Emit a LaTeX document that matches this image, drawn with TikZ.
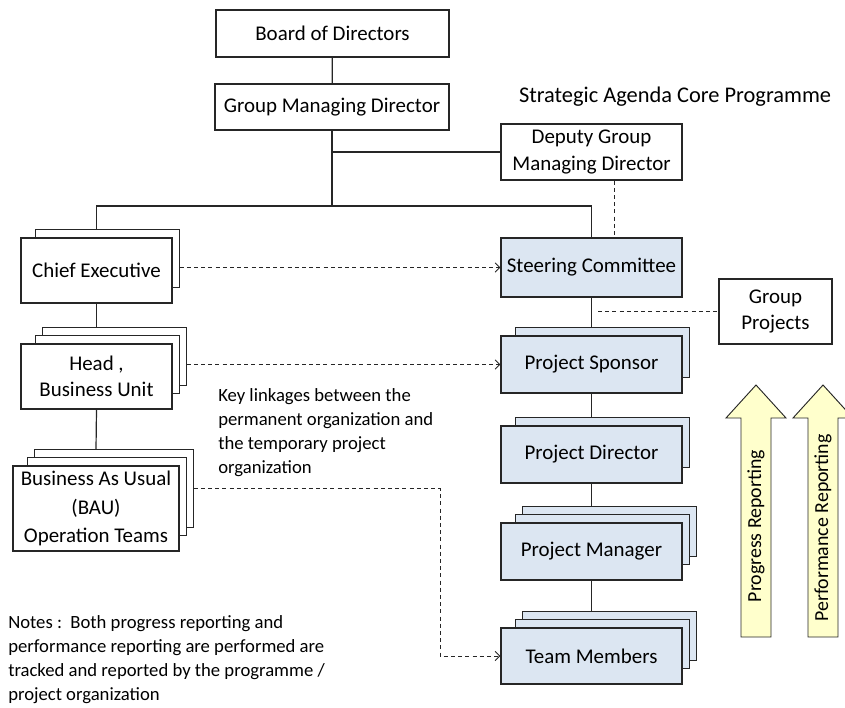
\documentclass[tikz,border=0pt]{standalone}
\usepackage{fontspec}
\setmainfont{Carlito}
\usetikzlibrary{calc,backgrounds,arrows.meta,positioning}
\definecolor{boxblue}{HTML}{DCE6F2}
\definecolor{reportyellow}{HTML}{FFFFCC}
\definecolor{edgegray}{HTML}{262626}

\tikzset{
  orgbox/.style={rectangle,draw=edgegray,line width=0.9pt,fill=white,inner sep=0pt,
    align=center,font=\fontsize{15.7}{19.8}\selectfont},
  progbox/.style={orgbox,fill=boxblue},
  link/.style={draw=edgegray,line width=0.9pt},
  dashlink/.style={draw=edgegray,line width=0.7pt,dash pattern=on 3pt off 2.4pt},
  linkarrow/.style={dashlink,-{Straight Barb[length=3.5pt,width=7pt]}},
  reportarrow/.style={draw=edgegray,line width=0.7pt,fill=reportyellow},
  notetext/.style={anchor=north west,align=left,inner sep=0pt,font=\fontsize{14}{18}\selectfont}
}

% stacked pages behind a box
\newcommand{\backlayers}[3]{%
  \begin{scope}[on background layer]
    \foreach \k in {#2,...,1}
      \draw[draw=edgegray,line width=0.9pt,fill=#3] ($(#1.north west)+(8+7*\k,-8*\k)$) rectangle ($(#1.south east)+(7*\k,-8-8*\k)$);
  \end{scope}
  \coordinate (#1-top) at ($(#1.north)+(0,-8*#2)$);
  \coordinate (#1-side) at ($(#1.east)+(7*#2,-4-8*#2)$);
}

\begin{document}
\begin{tikzpicture}[x=0.75pt,y=-0.75pt]
\useasboundingbox (0,0) rectangle (845,707);
%Permanent organization
\node at (332.5,33.5) [orgbox,minimum width=174.75pt,minimum height=35.25pt] (Board) {Board of Directors};
\node at (332,107) [orgbox,minimum width=175.5pt,minimum height=34.5pt] (GroupMD) {Group Managing Director};
\node at (591.5,152) [orgbox,minimum width=135.75pt,minimum height=42pt] (Deputy) {Deputy Group\\Managing Director};
\node at (96.5,270.5) [orgbox,minimum width=113.25pt,minimum height=48.75pt] (Chief) {Chief Executive};
\node at (96.5,376.5) [orgbox,minimum width=113.25pt,minimum height=48.75pt] (Head) {Head ,\\Business Unit};
\node at (96,508.5) [orgbox,minimum width=124.5pt,minimum height=63.75pt,font=\fontsize{15.7}{21.4}\selectfont] (BAU) {Business As Usual\\(BAU)\\Operation Teams};
\backlayers{Chief}{1}{white}
\backlayers{Head}{2}{white}
\backlayers{BAU}{2}{white}
%Programme organization
\node at (675,97) [font=\fontsize{16.8}{20}\selectfont] (Title) {Strategic Agenda Core Programme};
\node at (591.5,267.5) [progbox,minimum width=135.75pt,minimum height=44.25pt] (Steering) {Steering Committee};
\node at (591.5,364.5) [progbox,minimum width=135.75pt,minimum height=42.75pt] (Sponsor) {Project Sponsor};
\node at (591.5,454.5) [progbox,minimum width=135.75pt,minimum height=42.75pt] (PDirector) {Project Director};
\node at (591.5,551.5) [progbox,minimum width=135.75pt,minimum height=42.75pt] (PManager) {Project Manager};
\node at (591.5,656) [progbox,minimum width=135.75pt,minimum height=42pt] (Team) {Team Members};
\node at (775.5,311.5) [orgbox,minimum width=84.75pt,minimum height=48.75pt] (GroupProj) {Group\\Projects};
\backlayers{Sponsor}{1}{boxblue}
\backlayers{PDirector}{1}{boxblue}
\backlayers{PManager}{2}{boxblue}
\backlayers{Team}{2}{boxblue}
%Helper coordinates
\coordinate (JoinA) at (332,152);
\coordinate (JoinB) at (332,206);
\coordinate (DashX) at (614,0);
\coordinate (SideX) at (598,311.5);
\coordinate (Bend) at (440,0);
%Connections
\draw [link] (Board) -- (GroupMD);
\draw [link] (GroupMD) -- (JoinB);
\draw [link] (JoinA) -- (JoinA -| Deputy.west);
\draw [link] (Chief-top) |- (JoinB) -| (Steering.north);
\draw [link] (Chief.south) -- (Head-top);
\draw [link] (Head.south) -- (BAU-top);
\draw [link] (Steering.south) -- (Sponsor-top);
\draw [link] (Sponsor.south) -- (PDirector-top);
\draw [link] (PDirector.south) -- (PManager-top);
\draw [link] (PManager.south) -- (Team-top);
\draw [dashlink] (Deputy.south -| DashX) -- (Steering.north -| DashX);
\draw [dashlink] (SideX) -- (GroupProj.west);
% Key linkages
\draw [linkarrow] (Chief-side |- Steering.west) -- (Steering.west);
\draw [linkarrow] (Head-side |- Sponsor.west) -- (Sponsor.west);
\draw [linkarrow] (BAU-side) -| (Bend |- Team.west) -- (Team.west);
% Texts
\node at (218,388) [notetext] (KeyNote) {Key linkages between the\\permanent organization and\\the temporary project\\organization};
\node at (8,615) [notetext] (Notes) {Notes :\ \ Both progress reporting and\\performance reporting are performed are\\tracked and reported by the programme /\\project organization};
% Reporting arrows
\draw [reportarrow] (741,637) -- (741,418) -- (726,418) -- (756,385) -- (786,418) -- (771,418) -- (771,637) -- cycle;
\draw [reportarrow] (808,637) -- (808,418) -- (793,418) -- (823,385) -- (853,418) -- (838,418) -- (838,637) -- cycle;
\node at (756,526) [rotate=90,font=\fontsize{14.9}{17}\selectfont] (Progress) {Progress Reporting};
\node at (823,528) [rotate=90,font=\fontsize{14.9}{17}\selectfont] (Performance) {Performance Reporting};
\end{tikzpicture}
\end{document}
